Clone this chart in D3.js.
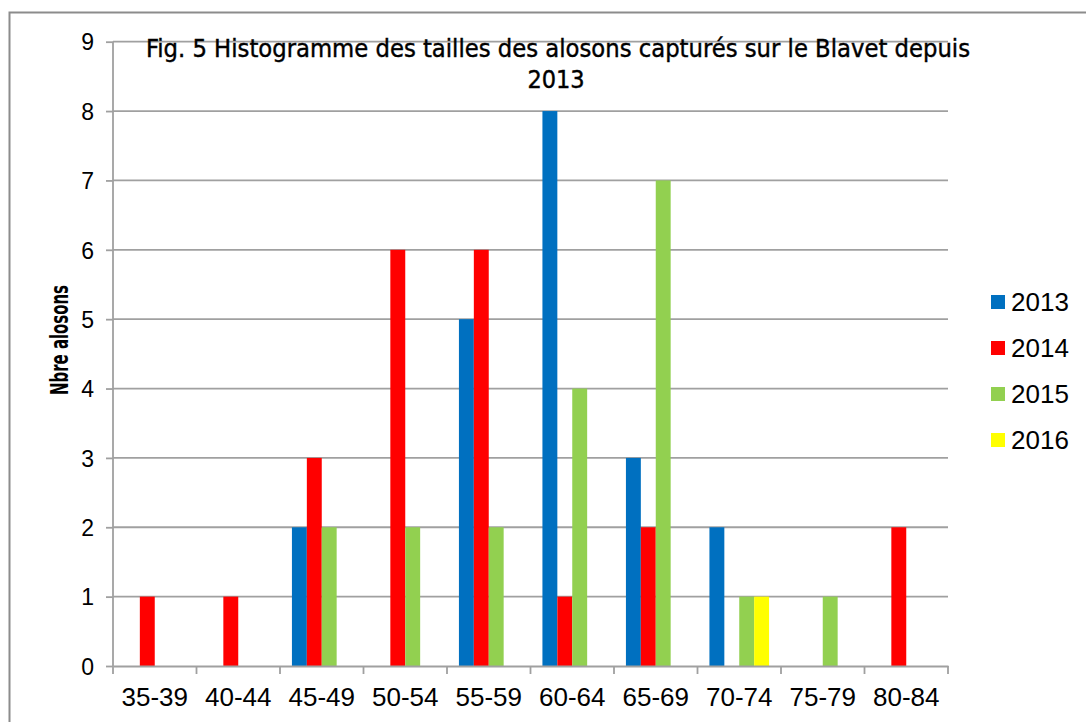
<!DOCTYPE html>
<html>
<head>
<meta charset="utf-8">
<script src="https://cdn.jsdelivr.net/npm/d3@7"></script>
<style>
  body { margin: 0; background: #fff; }
  svg { display: block; }
</style>
</head>
<body>
<div id="chart"></div>
<script>
// data
const categories = ["35-39", "40-44", "45-49", "50-54", "55-59", "60-64", "65-69", "70-74", "75-79", "80-84"];
const years = ["2013", "2014", "2015", "2016"];
const v2013 = [0, 0, 2, 0, 5, 8, 3, 2, 0, 0];
const v2014 = [1, 1, 3, 6, 6, 1, 2, 0, 0, 2];
const v2015 = [0, 0, 2, 2, 2, 4, 7, 1, 1, 0];
const v2016 = [0, 0, 0, 0, 0, 0, 0, 1, 0, 0];
const yTicks = [0, 1, 2, 3, 4, 5, 6, 7, 8, 9];
const colors = ["#0070C0", "#FF0000", "#92D050", "#FFFF00"];

const seriesValues = [v2013, v2014, v2015, v2016];

const width = 1086;
const height = 722;
const margin = { top: 41.7, right: 138, bottom: 56, left: 113 };

const svg = d3.select('#chart')
  .append('svg')
  .attr('width', width)
  .attr('height', height);

// outer frame (cropped on the right and bottom)
svg.append('rect')
  .attr('x', 9.5).attr('y', 12.5)
  .attr('width', width + 20).attr('height', height + 20)
  .attr('fill', 'none')
  .attr('stroke', '#8c8c8c')
  .attr('stroke-width', 2);

const x = d3.scaleBand()
  .domain(categories)
  .range([margin.left, width - margin.right])
  .paddingInner(0)
  .paddingOuter(0);

const xInner = d3.scaleBand()
  .domain(years)
  .range([0, x.bandwidth()])
  .paddingOuter(0.8)
  .paddingInner(0);

const y = d3.scaleLinear()
  .domain([0, 9])
  .range([height - margin.bottom, margin.top]);

// gridlines
svg.append('g')
  .selectAll('line')
  .data(yTicks.filter(d => d > 0))
  .enter().append('line')
  .attr('x1', margin.left)
  .attr('x2', width - margin.right)
  .attr('y1', d => y(d))
  .attr('y2', d => y(d))
  .attr('stroke', '#a0a0a0')
  .attr('stroke-width', 1.8);

// bars
const groups = svg.append('g')
  .selectAll('g')
  .data(years)
  .enter().append('g')
  .attr('fill', (d, i) => colors[i]);

groups.selectAll('rect')
  .data((yr, i) => seriesValues[i].map((v, j) => ({ cat: categories[j], year: yr, value: v })))
  .enter().append('rect')
  .attr('x', d => x(d.cat) + xInner(d.year))
  .attr('width', xInner.bandwidth())
  .attr('y', d => y(d.value))
  .attr('height', d => y(0) - y(d.value));

// y axis
const yAxis = svg.append('g')
  .attr('transform', `translate(${margin.left},0)`)
  .call(d3.axisLeft(y).tickValues(yTicks).tickSize(7).tickPadding(12).tickFormat(d3.format('d')));

// x axis
const xAxis = svg.append('g')
  .attr('transform', `translate(0,${y(0)})`)
  .call(d3.axisBottom(x).tickSize(0).tickPadding(22));

// x ticks at band boundaries
const xEdges = categories.map(c => x(c)).concat([x(categories[categories.length - 1]) + x.bandwidth()]);
svg.append('g')
  .selectAll('line')
  .data(xEdges)
  .enter().append('line')
  .attr('x1', d => d)
  .attr('x2', d => d)
  .attr('y1', y(0))
  .attr('y2', y(0) + 8)
  .attr('stroke', '#a0a0a0')
  .attr('stroke-width', 1.8);

[yAxis, xAxis].forEach(ax => {
  ax.select('.domain').attr('stroke', '#a0a0a0').attr('stroke-width', 1.8);
  ax.selectAll('.tick line').attr('stroke', '#a0a0a0').attr('stroke-width', 1.8);
  ax.selectAll('text').attr('fill', '#000').style('font-family', '"Liberation Sans", Arial, sans-serif');
});
yAxis.select('.domain').attr('d', `M0,${y(9)}V${y(0)}`);
yAxis.selectAll('text').style('font-size', '23px').attr('dy', '0.36em');
xAxis.selectAll('text').style('font-size', '26px');

// title
const title = svg.append('text')
  .attr('x', 558)
  .attr('text-anchor', 'middle')
  .style('font-family', '"Liberation Sans Narrow", "DejaVu Sans Condensed", sans-serif')
  .style('font-size', '25px')
  .attr('fill', '#000')
  .attr('stroke', '#000')
  .attr('stroke-width', 0.4);
title.append('tspan').attr('x', 558).attr('y', 57)
  .attr('textLength', 824).attr('lengthAdjust', 'spacingAndGlyphs')
  .text('Fig. 5 Histogramme des tailles des alosons capturés sur le Blavet depuis');
title.append('tspan').attr('x', 556).attr('y', 88)
  .text('2013');

// y axis title
svg.append('text')
  .attr('transform', 'translate(68,340) rotate(-90)')
  .attr('text-anchor', 'middle')
  .attr('textLength', 110).attr('lengthAdjust', 'spacingAndGlyphs')
  .style('font-family', '"Liberation Sans Narrow", "DejaVu Sans Condensed", sans-serif')
  .style('font-weight', 'bold')
  .style('font-size', '24px')
  .attr('fill', '#000')
  .text('Nbre alosons');

// legend
const legend = svg.append('g')
  .selectAll('g')
  .data(years)
  .enter().append('g')
  .attr('transform', (d, i) => `translate(991,${302 + i * 46})`);

legend.append('rect')
  .attr('x', 0).attr('y', -7)
  .attr('width', 14).attr('height', 14)
  .attr('fill', (d, i) => colors[i]);

legend.append('text')
  .attr('x', 20).attr('y', 0).attr('dy', '0.36em')
  .style('font-family', '"Liberation Sans", Arial, sans-serif')
  .style('font-size', '26px')
  .attr('fill', '#000')
  .text(d => d);
</script>
</body>
</html>
